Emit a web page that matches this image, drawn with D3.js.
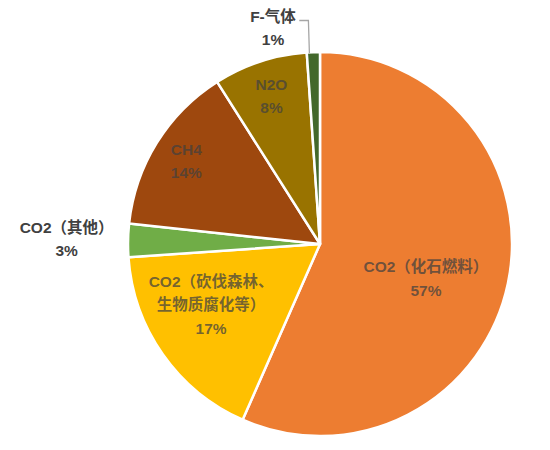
<!DOCTYPE html>
<html><head><meta charset="utf-8">
<script src="https://cdn.jsdelivr.net/npm/d3@7"></script>
<style>
html,body{margin:0;padding:0;background:#fff;}
text{font-family:"Liberation Sans","Noto Sans CJK SC",sans-serif;font-weight:bold;font-size:15.5px;}
</style></head>
<body><svg id="c" width="550" height="450"></svg>
<script>
const categories = ["CO2（化石燃料）", "CO2（砍伐森林、生物质腐化等）", "CO2（其他）", "CH4", "N2O", "F-气体"];
const labelLines = [["CO2（化石燃料）"], ["CO2（砍伐森林、", "生物质腐化等）"], ["CO2（其他）"], ["CH4"], ["N2O"], ["F-气体"]];
const values = [56.6, 17.3, 2.8, 14.3, 7.9, 1.1];
const percentLabels = ["57%", "17%", "3%", "14%", "8%", "1%"];

const colors = ["#ED7D31", "#FFC000", "#70AD47", "#9E480E", "#997300", "#43682B"];
// label placement: radius factor, optional angle (deg, clockwise from top)
const labelLayout = [
  {r: 0.58, angle: 108, inside: true},
  {r: 0.65, angle: 240.8, inside: true},
  {r: 1.32, inside: false},
  {r: 0.82, inside: true},
  {r: 0.81, inside: true},
  {r: 1.15, angle: -12.3, inside: false, leader: true}
];

const svg = d3.select("#c");
const cx = 320, cy = 244, R = 192;
const g = svg.append("g").attr("transform", `translate(${cx},${cy})`);

const pie = d3.pie().sort(null).value(d => d.v).startAngle(0).endAngle(2 * Math.PI);
const data = categories.map((c, i) => ({c, v: values[i], i}));
const arcs = pie(data);
const arc = d3.arc().innerRadius(0).outerRadius(R);

g.selectAll("path.slice").data(arcs).enter().append("path")
  .attr("class", "slice")
  .attr("d", arc)
  .attr("fill", d => colors[d.data.i])
  .attr("stroke", "#fff")
  .attr("stroke-width", 2.5)
  .attr("stroke-linejoin", "round");

const lh = 23.5;
arcs.forEach(d => {
  const i = d.data.i;
  const L = labelLayout[i];
  const mid = (d.startAngle + d.endAngle) / 2;
  const ang = L.angle != null ? L.angle * Math.PI / 180 : mid;
  const rr = L.r * R;
  const x = rr * Math.sin(ang), y = -rr * Math.cos(ang);
  const lines = labelLines[i].concat([percentLabels[i]]);
  const y0 = y - (lines.length - 1) * lh / 2;
  const t = g.append("text")
    .attr("text-anchor", "middle")
    .attr("fill", "#404040")
    .attr("fill-opacity", L.inside ? 0.72 : 1);
  lines.forEach((s, k) => {
    t.append("tspan").attr("x", x).attr("y", y0 + k * lh).attr("dy", "0.35em").text(s);
  });
  if (L.leader) {
    const bb = t.node().getBBox();
    const ex = (R - 1) * Math.sin(mid) - 4, ey = -(R - 1) * Math.cos(mid);
    const ly = y0 + 4;
    g.append("path")
      .attr("d", `M${bb.x + bb.width + 3},${ly}L${ex - 1},${ly}L${ex},${ey}`)
      .attr("fill", "none").attr("stroke", "#A6A6A6").attr("stroke-width", 1.3);
  }
});
</script></body></html>
